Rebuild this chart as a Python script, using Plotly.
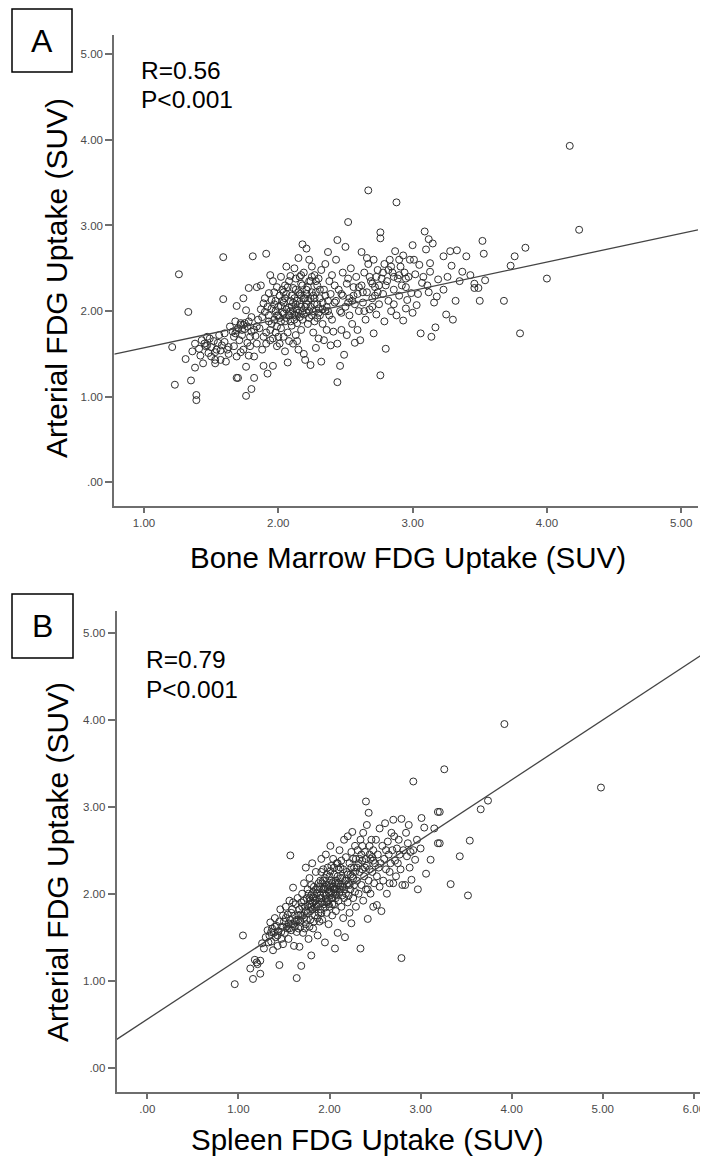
import plotly.graph_objects as go

# ---------------- data ----------------
# Panel A: bone marrow SUV (x) vs arterial SUV (y)
panel_a_points = [
    (1.21,1.58),(1.23,1.14),(1.26,2.43),(1.31,1.44),(1.33,1.99),(1.35,1.19),(1.38,1.34),(1.39,1.02),
    (1.39,0.96),(1.36,1.53),(1.38,1.62),(1.41,1.56),(1.43,1.66),(1.44,1.39),(1.46,1.59),(1.48,1.51),
    (1.49,1.68),(1.53,1.39),(1.54,1.55),(1.53,1.43),(1.57,1.43),(1.58,1.60),(1.59,2.14),(1.59,2.63),
    (1.61,1.41),(1.62,1.55),(1.60,1.74),(1.64,1.82),(1.45,1.62),(1.50,1.47),(1.47,1.70),(1.52,1.65),
    (1.56,1.72),(1.42,1.48),(1.55,1.63),(1.63,1.50),(1.60,1.64),(1.57,1.54),
    (1.67,1.70),(1.67,1.59),(1.69,1.22),(1.70,1.22),(1.69,1.47),(1.69,1.78),(1.69,2.06),(1.72,1.86),
    (1.73,1.72),(1.74,1.84),(1.74,1.55),(1.76,1.01),(1.76,1.35),(1.76,2.01),(1.78,1.88),(1.78,2.27),
    (1.79,1.59),(1.79,1.70),(1.80,1.09),(1.81,2.64),(1.82,1.78),(1.82,1.47),(1.82,1.22),(1.84,1.82),
    (1.84,1.62),(1.84,2.28),(1.71,1.66),(1.75,1.79),(1.77,1.63),(1.80,1.93),(1.66,1.76),(1.72,1.52),
    (1.83,1.71),(1.78,1.48),(1.68,1.88),(1.74,2.15),(1.85,1.90),
    (1.87,2.30),(1.88,1.55),(1.89,1.36),(1.89,2.09),(1.90,1.99),(1.91,2.67),(1.92,1.27),(1.93,2.21),
    (1.94,1.66),(1.95,1.85),(1.96,1.36),(1.96,2.35),(1.97,2.08),(1.98,1.75),(1.99,1.59),(1.99,1.95),
    (1.86,1.80),(1.88,1.93),(1.90,2.15),(1.91,1.75),(1.92,2.05),(1.93,1.88),(1.94,2.42),(1.95,2.13),
    (1.96,1.68),(1.97,2.22),(1.98,2.00),(1.99,1.82),(1.87,2.02),(1.89,1.70),(1.93,1.95),(1.97,1.90),
    (1.99,2.28),(1.94,1.78),(1.91,1.62),
    (2.00,2.05),(2.00,1.70),(2.01,2.18),(2.01,1.92),(2.02,2.40),(2.02,1.80),(2.03,2.25),(2.03,1.99),
    (2.04,1.70),(2.04,2.10),(2.05,1.53),(2.05,2.30),(2.05,1.88),(2.06,2.02),(2.06,2.20),(2.07,1.40),
    (2.07,1.75),(2.08,2.35),(2.08,1.95),(2.09,2.41),(2.09,2.12),(2.10,1.83),(2.10,2.05),(2.11,1.62),
    (2.11,2.27),(2.12,1.96),(2.12,2.15),(2.13,1.72),(2.13,2.38),(2.14,2.02),(2.14,1.86),(2.15,2.62),
    (2.15,2.22),(2.15,1.55),(2.16,2.08),(2.16,1.93),(2.17,2.32),(2.17,1.78),(2.18,2.78),(2.18,2.00),
    (2.19,1.50),(2.19,2.15),(2.19,2.45),(2.03,2.12),(2.07,2.28),(2.11,2.00),(2.13,2.08),(2.17,2.18),
    (2.08,1.65),(2.01,1.62),(2.14,1.65),(2.18,1.90),(2.06,2.52),(2.12,2.50),(2.04,1.97),(2.16,2.40),
    (2.20,2.05),(2.20,1.43),(2.21,2.73),(2.21,2.25),(2.22,1.85),(2.22,2.12),(2.23,2.00),(2.23,2.60),
    (2.24,1.37),(2.24,2.35),(2.25,1.95),(2.25,2.52),(2.26,2.18),(2.26,1.75),(2.27,2.08),(2.27,2.42),
    (2.28,1.57),(2.28,2.22),(2.29,1.92),(2.29,2.30),(2.30,2.03),(2.30,1.68),(2.31,2.15),(2.32,1.41),
    (2.32,2.48),(2.33,1.85),(2.33,2.10),(2.34,1.66),(2.34,2.25),(2.35,2.00),(2.35,2.55),(2.36,1.78),
    (2.37,2.69),(2.37,2.12),(2.38,1.95),(2.38,2.35),(2.39,2.20),(2.39,1.60),(2.21,1.98),(2.24,2.15),
    (2.27,1.88),(2.31,1.95),(2.36,2.05),(2.25,2.40),(2.30,2.38),
    (2.40,2.42),(2.40,1.90),(2.41,1.76),(2.42,2.10),(2.43,2.60),(2.44,2.83),(2.44,1.17),(2.44,1.62),
    (2.45,2.25),(2.46,2.00),(2.46,1.36),(2.47,1.78),(2.48,2.18),(2.48,2.45),(2.49,1.49),(2.50,2.75),
    (2.50,2.05),(2.51,1.72),(2.51,2.32),(2.52,3.04),(2.53,1.95),(2.53,2.15),(2.54,2.50),(2.55,1.85),
    (2.56,2.28),(2.57,2.08),(2.57,1.63),(2.58,2.40),(2.59,1.78),(2.59,2.20),(2.42,2.30),(2.47,1.98),
    (2.52,2.38),(2.55,2.12),(2.60,2.00),
    (2.61,1.66),(2.62,2.69),(2.62,2.30),(2.63,2.10),(2.64,2.45),(2.65,1.90),(2.66,2.22),(2.67,3.41),
    (2.67,2.55),(2.68,2.02),(2.69,2.35),(2.70,2.15),(2.71,1.74),(2.71,2.60),(2.72,2.28),(2.73,1.96),
    (2.74,2.48),(2.75,2.08),(2.76,2.92),(2.76,2.85),(2.76,1.25),(2.77,2.38),(2.78,2.20),(2.79,2.55),
    (2.79,1.88),(2.80,1.56),(2.64,2.00),(2.68,2.40),(2.72,2.18),(2.75,2.30),(2.66,2.62),(2.78,2.45),
    (2.70,2.05),
    (2.81,2.35),(2.82,2.12),(2.83,2.60),(2.84,2.00),(2.85,2.45),(2.86,2.25),(2.87,2.70),(2.88,3.27),
    (2.88,1.95),(2.89,2.38),(2.90,2.18),(2.91,2.52),(2.92,2.30),(2.93,2.65),(2.93,1.89),(2.94,2.45),
    (2.95,2.03),(2.96,2.13),(2.97,2.40),(2.98,2.60),(2.99,2.21),(3.00,2.77),(3.00,1.98),(2.84,2.52),
    (2.90,2.60),(2.95,2.28),(2.86,2.08),
    (3.01,2.60),(3.02,2.43),(3.03,2.07),(3.05,2.54),(3.06,1.74),(3.07,2.33),(3.09,2.93),(3.10,2.72),
    (3.11,2.30),(3.12,2.84),(3.13,2.56),(3.13,2.46),(3.14,1.70),(3.15,2.79),(3.16,2.10),(3.17,1.81),
    (3.18,2.17),(3.19,2.37),(3.04,2.20),(3.08,2.40),(3.12,2.22),
    (3.23,2.64),(3.23,2.25),(3.25,1.96),(3.28,2.70),(3.29,2.53),(3.30,1.90),(3.32,2.12),(3.33,2.71),
    (3.37,2.46),(3.40,2.64),(3.43,2.42),(3.46,2.32),(3.46,2.27),(3.49,2.27),(3.50,2.12),(3.52,2.82),
    (3.53,2.67),(3.54,2.36),(3.26,2.40),(3.35,2.35),
    (3.68,2.12),(3.73,2.53),(3.76,2.64),(3.80,1.74),(3.84,2.74),(4.00,2.38),(4.17,3.93),(4.24,2.95),
]
# Panel A: extra points in the densest part of the cloud
panel_a_core = [
    (1.95,2.03),(1.98,2.12),(2.00,1.95),(2.02,2.06),(2.04,2.22),(2.06,1.92),(2.08,2.04),(2.09,1.88),
    (2.10,2.18),(2.11,2.10),(2.12,1.90),(2.13,2.25),(2.14,2.12),(2.15,1.98),(2.16,2.20),(2.17,2.05),
    (2.18,2.30),(2.19,1.96),(2.20,2.15),(2.21,2.08),(2.22,2.28),(2.23,1.92),(2.24,2.05),(2.25,2.22),
    (2.26,2.00),(2.27,2.15),(2.28,2.35),(2.29,2.08),(2.30,1.98),(2.31,2.25),(2.33,2.02),(2.35,2.18),
    (2.37,2.00),(2.05,2.15),(2.09,2.00),(2.13,1.95),(2.17,2.42),(2.21,2.20),(2.23,2.35),(2.02,1.88),
    (1.70,1.80),(1.72,1.84),(1.75,1.86),(1.73,1.78),(1.77,1.82),(1.80,1.76),(1.68,1.74),(1.63,1.58),
    (1.50,1.58),(1.53,1.52),(1.47,1.60),(2.43,2.12),(2.47,2.20),(2.52,2.10),(2.56,2.18),(2.60,2.28),
    (2.63,2.22),(2.70,2.32),(2.74,2.22),(2.80,2.30),(2.86,2.40),(2.90,2.42),(2.95,2.38),(2.73,2.40),
    (2.82,2.48),
]

# Panel B: spleen SUV (x) vs arterial SUV (y)
panel_b_points = [
    (0.96,0.96),(1.05,1.52),(1.13,1.14),(1.16,1.02),(1.18,1.24),(1.20,1.21),(1.24,1.23),(1.24,1.08),
    (1.26,1.43),(1.28,1.37),(1.30,1.50),(1.21,1.19),
    (1.32,1.58),(1.34,1.52),(1.35,1.67),(1.36,1.45),(1.37,1.60),(1.38,1.35),(1.39,1.55),(1.40,1.72),
    (1.41,1.50),(1.42,1.63),(1.43,1.40),(1.44,1.57),(1.45,1.18),(1.45,1.68),(1.46,1.82),(1.47,1.48),
    (1.48,1.62),(1.49,1.75),(1.33,1.44),(1.36,1.56),(1.40,1.62),(1.43,1.52),(1.47,1.56),(1.49,1.42),
    (1.50,1.68),(1.51,1.55),(1.52,1.85),(1.53,1.62),(1.54,1.76),(1.55,1.48),(1.56,1.92),(1.57,2.44),
    (1.57,1.70),(1.58,1.58),(1.59,1.82),(1.60,2.07),(1.60,1.65),(1.61,1.40),(1.62,1.75),(1.63,1.88),
    (1.64,1.56),(1.64,1.03),(1.65,1.95),(1.66,1.70),(1.67,1.82),(1.67,1.39),(1.68,1.62),(1.69,1.17),
    (1.69,1.90),(1.70,2.00),(1.52,1.72),(1.55,1.66),(1.58,1.78),(1.62,1.68),(1.66,1.60),(1.54,1.60),
    (1.60,1.90),(1.68,1.76),
    (1.71,1.75),(1.71,1.55),(1.72,2.12),(1.73,1.85),(1.74,1.65),(1.74,2.30),(1.75,1.95),(1.76,1.78),
    (1.76,2.05),(1.77,1.48),(1.78,1.88),(1.78,2.18),(1.79,1.70),(1.80,1.98),(1.80,1.29),(1.81,2.35),
    (1.81,1.82),(1.82,1.60),(1.83,2.08),(1.84,1.92),(1.84,1.75),(1.85,2.25),(1.86,1.85),(1.86,2.00),
    (1.87,1.52),(1.88,2.12),(1.88,1.78),(1.89,1.95),(1.72,1.92),(1.75,1.70),(1.77,2.00),(1.79,1.80),
    (1.82,1.96),(1.83,1.68),(1.85,1.88),(1.87,2.05),(1.89,1.68),(1.73,1.60),(1.78,1.62),(1.80,2.10),
    (1.90,2.15),(1.90,1.82),(1.91,2.40),(1.91,1.95),(1.92,1.70),(1.93,2.05),(1.93,2.28),(1.94,1.88),
    (1.95,1.44),(1.95,2.18),(1.96,1.98),(1.96,2.45),(1.97,1.78),(1.97,2.10),(1.98,2.30),(1.98,1.92),
    (1.99,2.02),(1.99,1.65),(2.00,2.20),(2.00,1.85),(2.01,2.08),(2.01,2.55),(2.02,1.95),(2.02,2.32),
    (2.03,1.75),(2.03,2.12),(2.04,2.00),(2.04,2.40),(2.05,1.88),(2.05,2.22),(2.06,2.05),(2.06,1.37),
    (2.07,2.15),(2.07,1.80),(2.08,2.35),(2.08,1.98),(2.09,2.10),(2.09,1.55),(2.10,2.28),(2.10,1.92),
    (1.92,2.12),(1.94,2.00),(1.97,1.90),(2.00,2.00),(2.02,2.15),(2.05,2.05),(2.07,1.95),(1.95,2.08),
    (2.03,1.88),(2.09,2.20),
    (2.11,2.02),(2.11,2.50),(2.12,2.18),(2.13,1.85),(2.13,2.38),(2.14,2.08),(2.15,2.28),(2.15,1.72),
    (2.16,1.95),(2.16,2.62),(2.17,2.15),(2.17,1.50),(2.18,2.42),(2.18,2.00),(2.19,2.25),(2.20,1.90),
    (2.20,2.66),(2.21,2.12),(2.22,2.35),(2.22,1.78),(2.23,2.05),(2.24,2.48),(2.24,1.66),(2.25,2.20),
    (2.25,2.71),(2.26,1.95),(2.27,2.30),(2.27,2.10),(2.28,2.55),(2.29,1.85),(2.29,2.40),(2.30,2.15),
    (2.12,2.30),(2.14,1.98),(2.19,2.10),(2.23,2.22),(2.26,2.40),(2.21,1.98),(2.28,2.02),
    (2.31,2.50),(2.32,2.00),(2.33,2.25),(2.34,1.37),(2.34,2.62),(2.35,2.10),(2.36,2.38),(2.37,1.92),
    (2.37,2.70),(2.38,2.20),(2.39,2.48),(2.40,3.06),(2.40,2.05),(2.41,2.79),(2.41,2.32),(2.42,1.71),
    (2.43,2.93),(2.43,2.15),(2.44,2.55),(2.45,2.00),(2.45,2.40),(2.46,2.62),(2.47,2.25),(2.48,1.85),
    (2.48,2.50),(2.49,2.12),(2.50,2.35),(2.33,2.40),(2.36,2.55),(2.39,2.30),(2.44,2.28),(2.47,2.42),
    (2.42,2.05),
    (2.51,2.62),(2.52,1.87),(2.52,2.20),(2.53,2.45),(2.55,2.75),(2.55,2.08),(2.56,2.35),(2.57,1.80),
    (2.58,2.55),(2.59,2.15),(2.60,2.40),(2.61,2.81),(2.62,2.28),(2.63,2.00),(2.64,2.60),(2.65,2.45),
    (2.66,2.12),(2.67,2.35),(2.68,2.70),(2.69,2.50),(2.70,2.85),(2.70,2.12),(2.54,2.30),(2.62,2.50),
    (2.66,2.25),
    (2.71,2.66),(2.72,2.38),(2.73,2.20),(2.74,2.52),(2.75,2.35),(2.76,2.62),(2.77,2.45),(2.79,2.86),
    (2.79,1.26),(2.80,2.10),(2.81,2.50),(2.83,2.10),(2.84,2.70),(2.85,2.43),(2.86,2.58),(2.87,2.79),
    (2.88,2.30),(2.89,2.48),(2.90,2.16),(2.78,2.28),
    (2.92,3.29),(2.92,2.50),(2.94,2.39),(2.96,2.62),(2.97,2.05),(3.00,2.52),(3.01,2.87),(3.04,2.76),
    (3.06,2.23),(3.11,2.39),(3.15,2.75),(3.19,2.58),(3.19,2.94),
    (3.21,2.94),(3.21,2.58),(3.26,3.43),(3.33,2.11),(3.43,2.43),(3.52,1.98),(3.54,2.61),(3.66,2.97),
    (3.74,3.07),(3.92,3.95),(4.98,3.22),
]
# Panel B: extra points in the densest part of the cloud
panel_b_core = [
    (1.80,1.85),(1.82,1.90),(1.84,1.84),(1.86,1.94),(1.88,1.88),(1.90,1.98),(1.92,1.90),(1.94,2.06),
    (1.96,1.94),(1.98,2.05),(2.00,2.10),(2.02,2.02),(2.04,2.08),(2.06,2.12),(2.08,2.05),(2.10,2.12),
    (2.12,2.08),(2.14,2.18),(2.16,2.05),(2.18,2.15),(2.20,2.22),(2.22,2.10),(1.76,1.86),(1.78,1.95),
    (1.74,1.80),(1.70,1.85),(1.72,1.72),(1.68,1.68),(1.66,1.75),(1.64,1.70),(1.62,1.62),(1.58,1.65),
    (1.56,1.60),(1.85,2.05),(1.89,2.08),(1.93,2.15),(1.97,2.22),(2.01,2.26),(2.05,2.30),(2.09,2.35),
    (1.87,1.72),(1.91,1.78),(1.95,1.84),(1.99,1.88),(2.03,1.95),(2.07,2.00),(2.11,2.05),(2.24,2.30),
    (2.28,2.25),(2.32,2.35),(2.36,2.28),(2.40,2.40),(2.44,2.45),(2.48,2.38),(2.35,2.45),(2.30,2.30),
    (2.26,2.18),(1.82,2.02),(1.79,1.92),(1.91,2.25),
]

bone_marrow_suv = [p[0] for p in panel_a_points + panel_a_core]
arterial_suv_a = [p[1] for p in panel_a_points + panel_a_core]
spleen_suv = [p[0] for p in panel_b_points + panel_b_core]
arterial_suv_b = [p[1] for p in panel_b_points + panel_b_core]

# Fit lines (intercept, slope)
fit_a = (1.237, 0.334)
fit_b = (0.557, 0.688)

stats_a = ["R=0.56", "P<0.001"]
stats_b = ["R=0.79", "P<0.001"]

y_tick_vals = [0, 1, 2, 3, 4, 5]
y_tick_text = [".00", "1.00", "2.00", "3.00", "4.00", "5.00"]
xa_tick_vals = [1, 2, 3, 4, 5]
xa_tick_text = ["1.00", "2.00", "3.00", "4.00", "5.00"]
xb_tick_vals = [0, 1, 2, 3, 4, 5, 6]
xb_tick_text = [".00", "1.00", "2.00", "3.00", "4.00", "5.00", "6.00"]

# ---------------- layout helpers ----------------
PAGE_W, PAGE_H = 708, 1161
OFF = 8  # page body margin
W, H = PAGE_W - OFF, PAGE_H - OFF
def px(x):
    return (x - OFF) / W
def py(y):
    return 1 - (y - OFF) / H

xa_range = [0.779, 5.125]
ya_range = [-0.273, 5.225]
xb_range = [-0.336, 6.155]
yb_range = [-0.276, 5.253]

FONT = "Liberation Sans, Arial, sans-serif"
marker_style = dict(symbol="circle-open", size=7, color="#2e2e2e", line=dict(width=1))

fig = go.Figure()
fig.add_trace(go.Scatter(x=bone_marrow_suv, y=arterial_suv_a, mode="markers",
                         marker=marker_style, xaxis="x", yaxis="y", showlegend=False))
fig.add_trace(go.Scatter(x=xa_range, y=[fit_a[0] + fit_a[1] * v for v in xa_range], mode="lines",
                         line=dict(color="#444444", width=1.3), xaxis="x", yaxis="y", showlegend=False))
fig.add_trace(go.Scatter(x=spleen_suv, y=arterial_suv_b, mode="markers",
                         marker=marker_style, xaxis="x2", yaxis="y2", showlegend=False))
fig.add_trace(go.Scatter(x=xb_range, y=[fit_b[0] + fit_b[1] * v for v in xb_range], mode="lines",
                         line=dict(color="#444444", width=1.3), xaxis="x2", yaxis="y2", showlegend=False))

axis_common = dict(showgrid=False, zeroline=False, showline=True, linecolor="#6e6e6e", linewidth=2,
                   ticks="outside", tickcolor="#6e6e6e", tickwidth=1.5,
                   tickfont=dict(family=FONT, size=11.5, color="#4a4a4a"), tickmode="array")

fig.update_layout(
    width=W, height=H, autosize=False,
    margin=dict(l=0, r=0, t=0, b=0),
    paper_bgcolor="white", plot_bgcolor="white",
    xaxis=dict(domain=[px(114.3), px(698)], range=xa_range, anchor="y",
               tickvals=xa_tick_vals, ticktext=xa_tick_text, ticklen=5, **axis_common),
    yaxis=dict(domain=[py(505.7), py(35)], range=ya_range, anchor="x",
               tickvals=y_tick_vals, ticktext=y_tick_text, ticklen=7, **axis_common),
    xaxis2=dict(domain=[px(116.7), 1.0], range=xb_range, anchor="y2",
                tickvals=xb_tick_vals, ticktext=xb_tick_text, ticklen=5, **axis_common),
    yaxis2=dict(domain=[py(1091.7), py(610.7)], range=yb_range, anchor="x2",
                tickvals=y_tick_vals, ticktext=y_tick_text, ticklen=7, **axis_common),
)

annots = []
def label(text, x, y, size, xanchor="center", angle=0):
    annots.append(dict(text=text, x=px(x), y=py(y), xref="paper", yref="paper",
                       xanchor=xanchor, yanchor="middle", showarrow=False, textangle=angle,
                       font=dict(family=FONT, size=size, color="black")))

# Panel letters
label("A", 42, 41, 32)
label("B", 42.5, 626, 32)
# statistics
label(stats_a[0], 139, 71, 24.5, xanchor="left")
label(stats_a[1], 139, 100, 24.5, xanchor="left")
label(stats_b[0], 144, 659, 24.5, xanchor="left")
label(stats_b[1], 144, 689, 24.5, xanchor="left")
# axis titles
label("Bone Marrow FDG Uptake (SUV)", 408, 557, 29.5)
label("Spleen FDG Uptake (SUV)", 368, 1139, 29.5)
label("Arterial FDG Uptake (SUV)", 57, 278, 30, angle=-90)
label("Arterial FDG Uptake (SUV)", 57, 862, 30, angle=-90)
fig.update_layout(annotations=annots)

fig.update_layout(shapes=[
    dict(type="rect", xref="paper", yref="paper", x0=px(12), x1=px(72), y0=py(72), y1=py(9),
         line=dict(color="black", width=1.5)),
    dict(type="rect", xref="paper", yref="paper", x0=px(12), x1=px(73), y0=py(658), y1=py(594),
         line=dict(color="black", width=1.5)),
])

fig.write_html("out.html")
